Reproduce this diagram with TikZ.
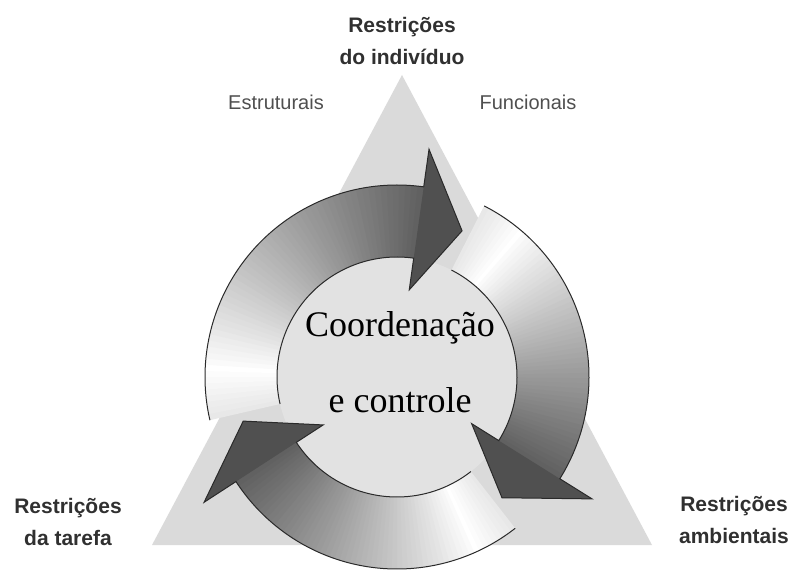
\documentclass[tikz,border=0pt]{standalone}
\usepackage{fontspec}
\setmainfont{Liberation Serif}
\setsansfont{Liberation Sans}
\usetikzlibrary{calc}
\newcommand{\ringin}{120}
\newcommand{\ringout}{192}
\definecolor{trigray}{HTML}{DADADA}
\definecolor{discgray}{HTML}{E2E2E2}
\definecolor{arrowgray}{HTML}{505050}
\definecolor{edgegray}{HTML}{2A2A2A}
\definecolor{labelgray}{HTML}{303030}
\tikzset{
    bold label/.style = {
        font=\sffamily\bfseries\fontsize{21}{32}\selectfont,
        text=labelgray, align=center, inner sep=0
    },
    light label/.style = {
        font=\sffamily\fontsize{20}{24}\selectfont,
        text=labelgray!85, inner sep=0, anchor=base
    },
    center text/.style = {
        font=\fontsize{36}{76}\selectfont, align=center, inner sep=0
    },
    arrow edge/.style = {draw=edgegray, line width=1pt, line join=miter}
}

\begin{document}
\begin{tikzpicture}[x=1pt,y=1pt]
\useasboundingbox (0,0) rectangle (790,576);

\coordinate (C)  at (397,199);
\coordinate (TL) at (152,31);
\coordinate (TR) at (652,31);
\coordinate (TT) at (402,501);
\fill[trigray] (TL) -- (TR) -- (TT) -- cycle;
\fill[discgray] (C) circle[radius=\ringin pt];

% three arrows: tail angle / head base angle / tip angle
\begin{scope}[shift={(C)}]
\foreach \tailang/\baseang/\tipang in {193/82/66, 63/-32/-49, -52/-147/-164}{
    \foreach \i in {1,...,60}{
        \pgfmathsetmacro{\pos}{\i/60}
        \pgfmathsetmacro{\pct}{\pos<0.15 ? 15*(1-\pos/0.15) : 90*(max(\pos-0.15,0.001)/0.85)^0.9}
        \pgfmathsetmacro{\angA}{\tailang-(\i-1)*(\tailang-\baseang)/60}
        \pgfmathsetmacro{\angB}{\tailang-\i*(\tailang-\baseang)/60-0.4}
        \fill[arrowgray!\pct!white] (\angA:\ringin pt) -- (\angA:\ringout pt)
            arc[start angle=\angA, end angle=\angB, radius=\ringout pt]
            -- (\angB:\ringin pt)
            arc[start angle=\angB, end angle=\angA, radius=\ringin pt] -- cycle;
    }
    \fill[arrowgray] (\baseang:88pt) -- (\baseang:230pt) -- (\tipang:160pt) -- cycle;
    \draw[arrow edge] (\tailang:\ringout pt)
        arc[start angle=\tailang, end angle=\baseang, radius=\ringout pt]
        -- (\baseang:230pt) -- (\tipang:160pt) -- (\baseang:88pt) -- (\baseang:\ringin pt)
        arc[start angle=\baseang, end angle=\tailang, radius=\ringin pt];
}
\end{scope}

\node[bold label, anchor=base] (indiv) at (402,511) {Restrições\\do indivíduo};
\node[light label] (estrut) at (276,466) {Estruturais};
\node[light label] (func) at (528,466) {Funcionais};
\node[bold label, anchor=base] (tarefa) at (68,31) {Restrições\\da tarefa};
\node[bold label, anchor=base] (ambient) at (734,33) {Restrições\\ambientais};
\node[center text, anchor=base] (coord) at (400,163) {Coordenação\\e controle};

\end{tikzpicture}
\end{document}
